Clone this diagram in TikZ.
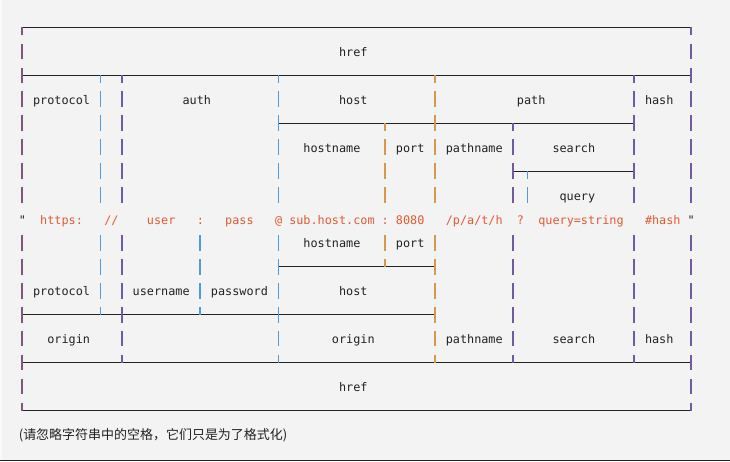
\documentclass[tikz,border=0pt]{standalone}
\usepackage{fontspec}
\setmonofont{DejaVu Sans Mono}
\newfontfamily\cjkfont{Noto Sans CJK SC}
\usetikzlibrary{positioning}
\definecolor{bgpaper}{HTML}{F3F3F3}
\definecolor{ink}{HTML}{222222}
\definecolor{strred}{HTML}{E25A33}
\definecolor{barblue}{HTML}{4F9BD9}
\definecolor{barorange}{HTML}{D8974F}
\definecolor{barpurple}{HTML}{6F5AA3}
\definecolor{baredge}{HTML}{80567F}

\begin{document}
\begin{tikzpicture}[
    x=5.34375pt, y=-18pt,
    font=\ttfamily\fontsize{8.88pt}{10pt}\selectfont,
    rule/.style={draw=ink, line width=0.75pt},
    tick/.style={line width=1.1pt},
    lbl/.style={anchor=base west, inner sep=0pt, text=ink},
    strtok/.style={lbl, text=strred},
]

    % =====================================================================
    % PAPER
    % =====================================================================
    \fill[bgpaper] (-3.0456,-1.1375) rectangle (99.414,18.1125);
    \fill[white!60!bgpaper] (-3.0456,-1.1375) rectangle (-2.765,18.1125);
    \draw[ink, line width=0.75pt] (-3.0456,18.092) -- (99.414,18.092);
    \useasboundingbox (-3.0456,-1.1375) rectangle (99.414,18.1125);

    % =====================================================================
    % HORIZONTAL RULES
    % =====================================================================
    \draw[rule] (0,0) -- (94,0);
    \draw[rule] (0,2) -- (94,2);
    \draw[rule] (36,4) -- (86,4);
    \draw[rule] (69,6) -- (86,6);
    \draw[rule] (36,10) -- (58,10);
    \draw[rule] (0,12) -- (58,12);
    \draw[rule] (0,14) -- (94,14);
    \draw[rule] (0,16) -- (94,16);

    % =====================================================================
    % VERTICAL BARS (one short stroke per text row)
    % =====================================================================
    % outer frame
    \foreach \c/\col in {0/baredge, 94/barpurple} {
        \draw[tick, \col] (\c,0) -- (\c,0.34);
        \foreach \r in {1,2,3,4,5,6,7,9,10,11,12,13,14,15}
            \draw[tick, \col] (\c,\r-0.32) -- (\c,\r+0.32);
        \draw[tick, \col] (\c,15.66) -- (\c,16);
    }
    % protocol | slashes
    \draw[tick, barblue] (11,2) -- (11,2.34);
    \foreach \r in {3,4,5,6,7,9,10,11}
        \draw[tick, barblue] (11,\r-0.32) -- (11,\r+0.32);
    \draw[tick, barblue] (11,11.66) -- (11,12);
    % slashes | auth
    \draw[tick, barpurple] (14,2) -- (14,2.34);
    \foreach \r in {3,4,5,6,7,9,10,11,12,13}
        \draw[tick, barpurple] (14,\r-0.32) -- (14,\r+0.32);
    \draw[tick, barpurple] (14,13.66) -- (14,14);
    % username | password
    \foreach \r in {9,10,11}
        \draw[tick, barblue] (25,\r-0.32) -- (25,\r+0.32);
    \draw[tick, barblue] (25,11.66) -- (25,12);
    % auth | host
    \draw[tick, barblue] (36,2) -- (36,2.34);
    \foreach \r in {3,4,5,6,7,9,10,11,12,13}
        \draw[tick, barblue] (36,\r-0.32) -- (36,\r+0.32);
    \draw[tick, barblue] (36,13.66) -- (36,14);
    % hostname | port
    \draw[tick, barorange] (51,4) -- (51,4.34);
    \foreach \r in {5,6,7,9}
        \draw[tick, barorange] (51,\r-0.32) -- (51,\r+0.32);
    \draw[tick, barorange] (51,9.66) -- (51,10);
    % host | path
    \draw[tick, barorange] (58,2) -- (58,2.34);
    \foreach \r in {3,4,5,6,7,9,10,11,12,13}
        \draw[tick, barorange] (58,\r-0.32) -- (58,\r+0.32);
    \draw[tick, barorange] (58,13.66) -- (58,14);
    % pathname | search
    \draw[tick, barpurple] (69,4) -- (69,4.34);
    \foreach \r in {5,6,7,9,10,11,12,13}
        \draw[tick, barpurple] (69,\r-0.32) -- (69,\r+0.32);
    \draw[tick, barpurple] (69,13.66) -- (69,14);
    % ? | query
    \draw[tick, barblue] (71,6) -- (71,6.34);
    \draw[tick, barblue] (71,6.68) -- (71,7.32);
    % path | hash
    \draw[tick, barpurple] (86,2) -- (86,2.34);
    \foreach \r in {3,4,5,6,7,9,10,11,12,13}
        \draw[tick, barpurple] (86,\r-0.32) -- (86,\r+0.32);
    \draw[tick, barpurple] (86,13.66) -- (86,14);

    % =====================================================================
    % UPPER LABELS
    % =====================================================================
    \node[lbl] (href_top) at (44.5,1.21) {href};

    \node[lbl] (protocol_top) at (1.5,3.21) {protocol};
    \node[lbl] (auth) at (22.5,3.21) {auth};
    \node[lbl] (host_top) at (44.5,3.21) {host};
    \node[lbl] (path) at (69.5,3.21) {path};
    \node[lbl] (hash_top) at (87.5,3.21) {hash};

    \node[lbl] (hostname_top) at (39.5,5.21) {hostname};
    \node[lbl] (port_top) at (52.5,5.21) {port};
    \node[lbl] (pathname_top) at (59.5,5.21) {pathname};
    \node[lbl] (search_top) at (74.5,5.21) {search};

    \node[lbl] (query) at (75.5,7.21) {query};

    % =====================================================================
    % THE URL STRING
    % =====================================================================
    \node[lbl] (quote_open) at (-0.5,8.21) {"};
    \node[strtok] (s_protocol) at (2.5,8.21) {https:};
    \node[strtok] (s_slashes) at (11.5,8.21) {//};
    \node[strtok] (s_user) at (17.5,8.21) {user};
    \node[strtok] (s_colon_a) at (24.5,8.21) {:};
    \node[strtok] (s_pass) at (28.5,8.21) {pass};
    \node[strtok] (s_at) at (35.5,8.21) {@};
    \node[strtok] (s_hostname) at (37.5,8.21) {sub.host.com};
    \node[strtok] (s_colon_b) at (50.5,8.21) {:};
    \node[strtok] (s_port) at (52.5,8.21) {8080};
    \node[strtok] (s_pathname) at (59.5,8.21) {/p/a/t/h};
    \node[strtok] (s_qmark) at (69.5,8.21) {?};
    \node[strtok] (s_query) at (72.5,8.21) {query=string};
    \node[strtok] (s_hash) at (87.5,8.21) {\#hash};
    \node[lbl] (quote_close) at (93.5,8.21) {"};

    % =====================================================================
    % LOWER LABELS
    % =====================================================================
    \node[lbl] (hostname_low) at (39.5,9.21) {hostname};
    \node[lbl] (port_low) at (52.5,9.21) {port};

    \node[lbl] (protocol_low) at (1.5,11.21) {protocol};
    \node[lbl] (username) at (15.5,11.21) {username};
    \node[lbl] (password) at (26.5,11.21) {password};
    \node[lbl] (host_low) at (44.5,11.21) {host};

    \node[lbl] (origin_left) at (3.5,13.21) {origin};
    \node[lbl] (origin_right) at (43.5,13.21) {origin};
    \node[lbl] (pathname_low) at (59.5,13.21) {pathname};
    \node[lbl] (search_low) at (74.5,13.21) {search};
    \node[lbl] (hash_low) at (87.5,13.21) {hash};

    \node[lbl] (href_low) at (44.5,15.21) {href};

    % note under the table
    \node[lbl, font=\cjkfont\fontsize{9.75pt}{12pt}\selectfont] (note) at (-0.5,17.2)
        {(请忽略字符串中的空格，它们只是为了格式化)};

\end{tikzpicture}
\end{document}
